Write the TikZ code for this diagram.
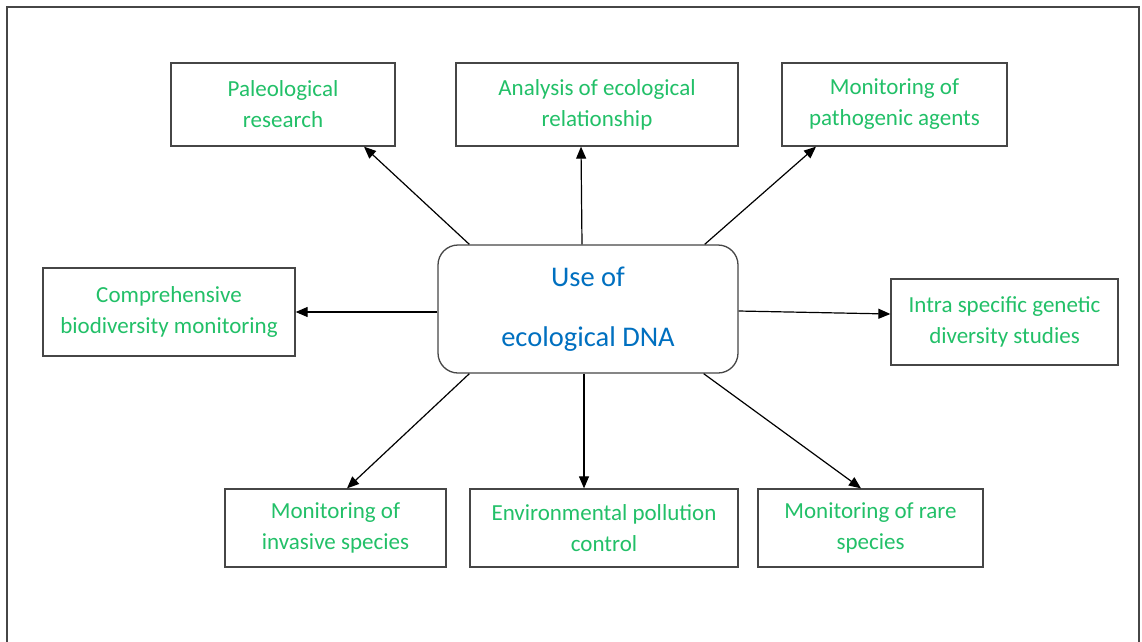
\documentclass[tikz,border=0pt]{standalone}
\usepackage{fontspec}
\setmainfont{Carlito}
\usetikzlibrary{arrows.meta}
\definecolor{txtgreen}{RGB}{34,192,104}
\definecolor{txtblue}{RGB}{0,112,192}
\definecolor{frame}{RGB}{70,70,70}
\tikzset{
  leaf/.style={draw=frame, line width=1.3pt, fill=white, align=center, text=txtgreen,
    font=\fontsize{23pt}{31pt}\selectfont, inner sep=0pt},
  hub/.style={draw=frame, line width=1.3pt, rounded corners=20pt, fill=white, align=center,
    text=txtblue, font=\fontsize{28.5pt}{60pt}\selectfont, inner sep=0pt,
    minimum width=300pt, minimum height=128pt},
  conn/.style={draw=black, line width=1.2pt, -{Triangle[length=12pt,width=10pt]}}
}
\begin{document}
\begin{tikzpicture}[x=1pt,y=-1pt]
\useasboundingbox (0,0) rectangle (1142,641);
\draw[frame, line width=1.3pt] (7,645) -- (7,7) -- (1139,7) -- (1139,645);

\node[hub] (c) at (588,309) {Use of\\ecological DNA};

\node[leaf, minimum width=224pt, minimum height=83pt] (paleo) at (283,104.5) {Paleological\\research};
\node[leaf, minimum width=282pt, minimum height=83pt] (ana) at (597,104.5) {Analysis of ecological\\relationship};
\node[leaf, minimum width=225pt, minimum height=83pt] (path) at (894.5,104.5) {Monitoring of\\pathogenic agents};
\node[leaf, minimum width=252pt, minimum height=88pt] (comp) at (169,312) {Comprehensive\\biodiversity monitoring};
\node[leaf, minimum width=227pt, minimum height=86pt] (intra) at (1004.5,322) {Intra specific genetic\\diversity studies};
\node[leaf, minimum width=221pt, minimum height=78pt] (inv) at (335.5,528) {Monitoring of\\invasive species};
\node[leaf, minimum width=268pt, minimum height=78pt] (env) at (604,528) {Environmental pollution\\control};
\node[leaf, minimum width=225pt, minimum height=78pt] (rare) at (870.5,528) {Monitoring of rare\\species};

\draw[conn] ([xshift=32pt]c.north west) -- ([xshift=81pt]paleo.south);
\draw[conn] ([xshift=-6pt]c.north) -- ([xshift=-16pt]ana.south);
\draw[conn] ([xshift=-34pt]c.north east) -- ([xshift=-78.5pt]path.south);
\draw[conn] ([yshift=-3pt]c.west) -- (comp.east);
\draw[conn] ([yshift=-2pt]c.east) -- ([yshift=8pt]intra.west);
\draw[conn] ([xshift=32pt]c.south west) -- ([xshift=11.5pt]inv.north);
\draw[conn] ([xshift=-4pt]c.south) -- ([xshift=-20pt]env.north);
\draw[conn] ([xshift=-35pt]c.south east) -- ([xshift=-9.5pt]rare.north);
\end{tikzpicture}
\end{document}
